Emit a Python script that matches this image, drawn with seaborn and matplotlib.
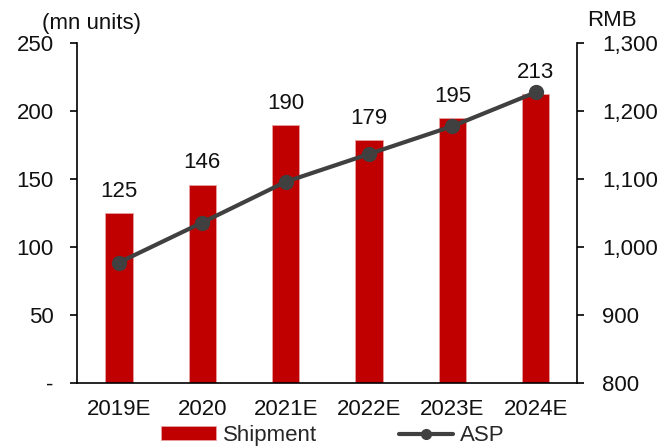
import matplotlib
matplotlib.use("Agg")
import matplotlib.pyplot as plt
import seaborn as sns
import pandas as pd
from matplotlib.patches import Patch
from matplotlib.lines import Line2D
from matplotlib.ticker import FuncFormatter

categories = ["2019E", "2020", "2021E", "2022E", "2023E", "2024E"]
shipment = [125, 146, 190, 179, 195, 213]
asp = [977, 1036, 1096, 1137, 1178, 1228]
left_ticks = [0, 50, 100, 150, 200, 250]
left_labels = ["-", "50", "100", "150", "200", "250"]
right_ticks = [800, 900, 1000, 1100, 1200, 1300]

sns.set_theme(style="white")
plt.rcParams["font.family"] = ["Liberation Sans", "DejaVu Sans"]

df = pd.DataFrame({"cat": categories, "shipment": shipment, "asp": asp})

fig = plt.figure(figsize=(6.66, 4.48), dpi=100)
ax = fig.add_axes([0.116, 0.146, 0.751, 0.757])
BAR = "#C00000"
LINE = "#404040"
FS = 16

sns.barplot(data=df, x="cat", y="shipment", ax=ax, color=BAR, width=0.33,
            saturation=1, edgecolor="#E8A0A0", linewidth=0.6)
ax.set_xlim(-0.5, 5.5)
ax.set_ylim(0, 250)
ax.set_yticks(left_ticks)
ax.set_yticklabels(left_labels)
ax.set_xlabel("")
ax.set_ylabel("")
for i, v in enumerate(shipment):
    ax.annotate(f"{v}", (i, v), xytext=(0, 8), textcoords="offset points",
                ha="center", va="bottom", fontsize=FS, color="#111111")

ax2 = ax.twinx()
sns.lineplot(x=list(range(len(categories))), y=asp, ax=ax2, color=LINE,
             linewidth=3, marker="o", markersize=11, markeredgecolor=LINE,
             markeredgewidth=0)
ax2.set_ylim(800, 1300)
ax2.set_yticks(right_ticks)
ax2.yaxis.set_major_formatter(FuncFormatter(lambda v, p: f"{int(v):,}"))
ax2.set_xlim(-0.5, 5.5)

for a in (ax, ax2):
    a.spines["top"].set_visible(False)
    for s in ("left", "right", "bottom"):
        a.spines[s].set_color("black")
        a.spines[s].set_linewidth(1.2)
ax.spines["right"].set_visible(False)
ax2.spines["left"].set_visible(False)
ax2.spines["bottom"].set_visible(False)

ax.tick_params(axis="y", left=True, length=5, width=1.2, color="black",
               labelsize=FS, pad=12, labelcolor="#111111")
ax.tick_params(axis="x", bottom=False, length=0, labelsize=FS, pad=12,
               labelcolor="#111111")
ax2.tick_params(axis="y", right=True, length=5, width=1.2, color="black",
                labelsize=FS, pad=13, labelcolor="#111111")
ax2.set_ylabel("")

fig.text(0.063, 0.948, "(mn units)", fontsize=FS, ha="left", va="center",
         color="#111111")
fig.text(0.881, 0.955, "RMB", fontsize=FS, ha="left", va="center",
         color="#111111")

handles = [Patch(facecolor=BAR, edgecolor="#E8A0A0", linewidth=0.6),
           Line2D([0], [0], color=LINE, linewidth=3, marker="o", markersize=7)]
fig.legend(handles, ["Shipment", "ASP"], loc="center", ncol=2,
           bbox_to_anchor=(0.5, 0.028), frameon=False, fontsize=FS,
           handlelength=2.45, handleheight=0.6, handletextpad=0.3,
           columnspacing=3.7, borderaxespad=0)

fig.savefig("out.png", dpi=100)
